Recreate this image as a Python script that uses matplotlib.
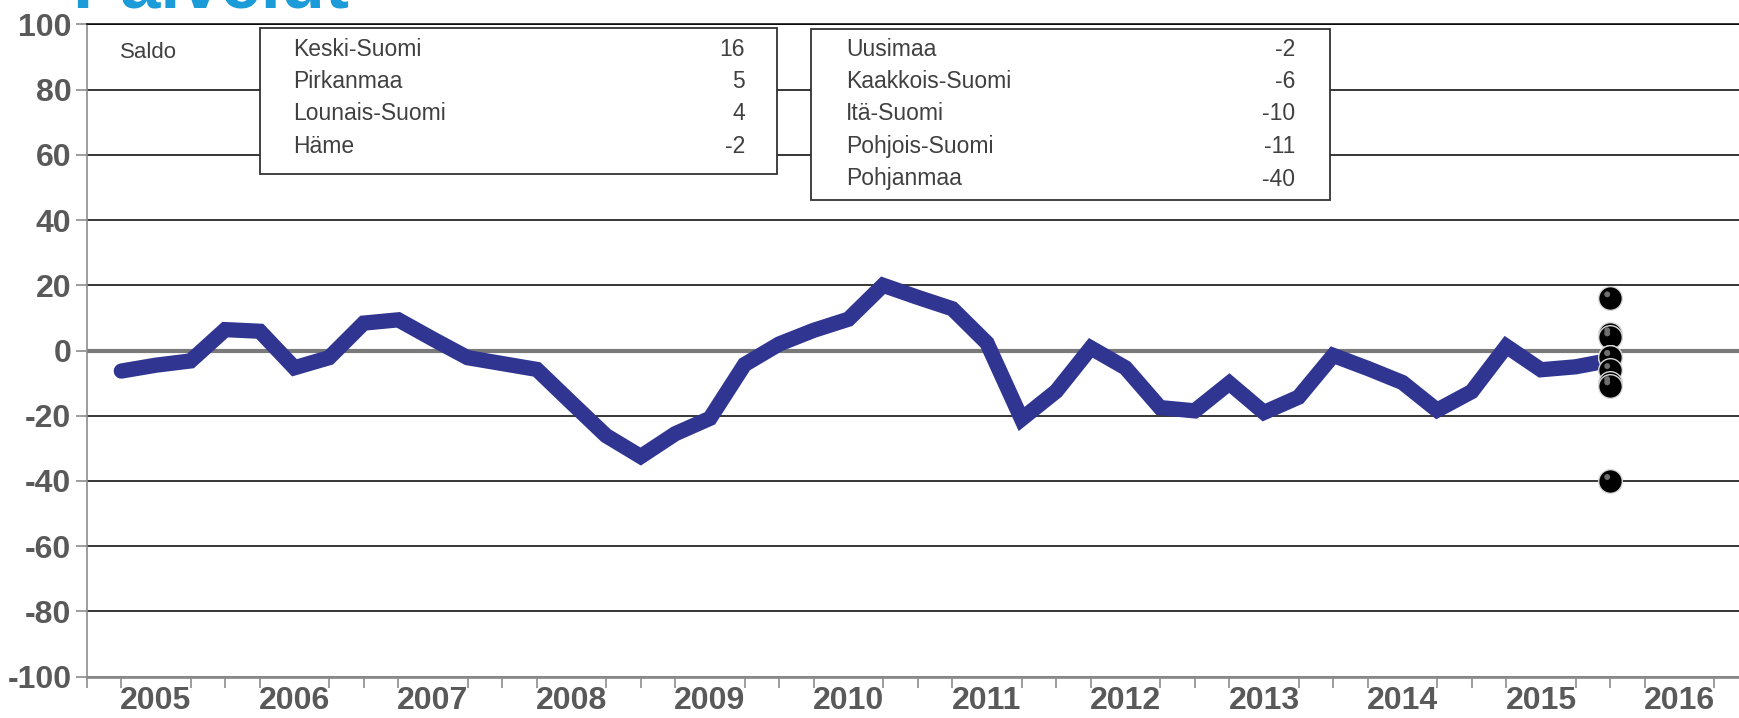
import matplotlib
matplotlib.use('Agg')
import matplotlib.pyplot as plt
import matplotlib.transforms as mtransforms
import numpy as np
from matplotlib.patches import Rectangle

plt.rcParams['font.family'] = ['Liberation Sans', 'DejaVu Sans']
plt.rcParams['axes.unicode_minus'] = False

# saldo, quarterly from 2005 Q1 onwards
saldo = [-6.3, -4.5, -3.2, 6.4, 5.9, -5.3, -2.2, 8.4, 9.4, 3.5, -2.2, -4.0, -5.8, -16.0, -26.1, -32.5,
         -25.5, -20.8, -4.3, 2.0, 6.2, 9.6, 20.0, 16.3, 12.8, 2.3, -21.0, -12.5, 0.8, -5.3, -17.5, -18.5,
         -10.0, -19.0, -14.3, -1.5, -5.5, -9.8, -18.3, -12.6, 1.3, -5.9, -5.0, -3.0]
quarters = 2005.25 + 0.25 * np.arange(len(saldo))
years = list(range(2005, 2017))

regions_left = ['Keski-Suomi', 'Pirkanmaa', 'Lounais-Suomi', 'Häme']
values_left = [16, 5, 4, -2]
regions_right = ['Uusimaa', 'Kaakkois-Suomi', 'Itä-Suomi', 'Pohjois-Suomi', 'Pohjanmaa']
values_right = [-2, -6, -10, -11, -40]

W, H = 1739, 718
def fx(px):
    return px / W
def fy(py):
    return 1 - py / H

fig = plt.figure(figsize=(W / 100, H / 100), dpi=100)
ax = fig.add_axes([fx(86.7), fy(676.7), 1 - fx(86.7), (676.7 - 24.3) / H])

ax.set_ylim(-100, 100)
ax.set_xlim(2005, 2016.93)
ax.set_yticks(range(-100, 101, 20))
ax.yaxis.grid(True, color='black', lw=1.1)
ax.set_axisbelow(True)
ax.axhline(0, color='#7a7a7a', lw=3, zorder=1.5)

ax.plot(quarters, saldo, color='#2f3590', lw=11, solid_capstyle='round', solid_joinstyle='miter', zorder=3)

# latest regional values as dots at the last quarter
reg_vals = values_left + values_right
xs = [quarters[-1]] * len(reg_vals)
ax.scatter(xs, reg_vals, s=290, c='black', edgecolors='#d8d8d8', linewidths=1, zorder=5)
shine = mtransforms.offset_copy(ax.transData, fig=fig, x=-3, y=4, units='dots')
ax.scatter(xs, reg_vals, s=18, c='#6e6e6e', edgecolors='none', transform=shine, zorder=6)

ax.set_xticks(np.array(years) + 0.5, labels=[str(y) for y in years])
ax.set_xticks(np.arange(2005, 2017, 0.25), minor=True)
ax.tick_params(axis='x', which='major', length=0, pad=7)
ax.tick_params(axis='x', which='minor', length=8, width=1.2, color='#8c8c8c')
ax.tick_params(axis='y', length=8, width=1.2, color='#8c8c8c', pad=3)
for lab in ax.get_xticklabels() + ax.get_yticklabels():
    lab.set_fontsize(23)
    lab.set_fontweight('bold')
    lab.set_color('#595959')

ax.spines['right'].set_visible(False)
ax.spines['top'].set_color('black')
ax.spines['top'].set_linewidth(1.1)
ax.spines['left'].set_color('#8c8c8c')
ax.spines['left'].set_linewidth(1.2)
ax.spines['bottom'].set_color('#8c8c8c')
ax.spines['bottom'].set_linewidth(2)

# cropped title at the very top (only its lower edge shows, as in the original)
fig.text(fx(72), fy(7), 'Palvelut', fontsize=52, fontweight='bold', color='#1b9bd7', va='baseline')

fig.text(fx(120), fy(52), 'Saldo', fontsize=16, color='#404040', va='center')

rows = [49, 81.5, 114, 146.5, 179]
fig.add_artist(Rectangle((fx(260), fy(174)), (776.5 - 260) / W, (174 - 28.3) / H, transform=fig.transFigure,
                         facecolor='white', edgecolor='#333333', lw=1.3))
for name, val, r in zip(regions_left, values_left, rows):
    fig.text(fx(293), fy(r), name, fontsize=16.5, color='#404040', va='center')
    fig.text(fx(745), fy(r), str(val), fontsize=16.5, color='#404040', va='center', ha='right')

fig.add_artist(Rectangle((fx(811.4), fy(200)), (1330 - 811.4) / W, (200 - 29) / H, transform=fig.transFigure,
                         facecolor='white', edgecolor='#333333', lw=1.3))
for name, val, r in zip(regions_right, values_right, rows):
    fig.text(fx(846), fy(r), name, fontsize=16.5, color='#404040', va='center')
    fig.text(fx(1295), fy(r), str(val), fontsize=16.5, color='#404040', va='center', ha='right')

fig.savefig('out.png', dpi=100)
